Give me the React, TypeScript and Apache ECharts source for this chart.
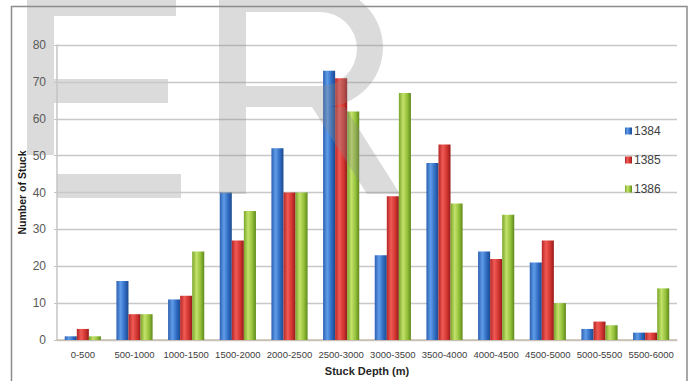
import React, { useEffect, useRef } from "react";
import * as echarts from "echarts";

// Stuck-pipe incidents by depth interval, three Iranian calendar years
const depthBins = [
  "0-500", "500-1000", "1000-1500", "1500-2000", "2000-2500", "2500-3000",
  "3000-3500", "3500-4000", "4000-4500", "4500-5000", "5000-5500", "5500-6000",
];
const years = ["1384", "1385", "1386"];
const stuck1384 = [1, 16, 11, 40, 52, 73, 23, 48, 24, 21, 3, 2];
const stuck1385 = [3, 7, 12, 27, 40, 71, 39, 53, 22, 27, 5, 2];
const stuck1386 = [1, 7, 24, 35, 40, 62, 67, 37, 34, 10, 4, 14];
const yTicks = [0, 10, 20, 30, 40, 50, 60, 70, 80];

// Outline of the large "R" of the faint overlay lettering
const R_PATH =
  "M219,-12 L323,-12 A60,59.5 0 0 1 323,107 L345,107 L400,194 L367,194 L312,107 L246,107 L246,194 L219,194 Z " +
  "M246,12 L246,86 L320,86 A37,37 0 0 0 320,12 Z";
let registered = false;
function ensureShapes() {
  if (registered) return;
  echarts.graphic.registerShape("letterR", echarts.graphic.extendPath(R_PATH, {}));
  registered = true;
}

function cylinder(stops: string[]) {
  return new echarts.graphic.LinearGradient(0, 0, 1, 0, [
    { offset: 0, color: stops[0] },
    { offset: 0.35, color: stops[1] },
    { offset: 0.7, color: stops[2] },
    { offset: 1, color: stops[3] },
  ]);
}

const palettes = [
  ["#2C60B2", "#5F9CE8", "#2F6BC2", "#1D4A8E"],
  ["#B42626", "#F05A55", "#D23530", "#951B1B"],
  ["#7AA52A", "#C3E26A", "#94C03A", "#5E881A"],
];

export default function App() {
  const ref = useRef<HTMLDivElement>(null);

  useEffect(() => {
    if (!ref.current) return;
    ensureShapes();
    const chart = echarts.init(ref.current, undefined, { renderer: "svg" });
    const seriesData = [stuck1384, stuck1385, stuck1386];
    const overlay = "rgba(140,140,140,0.31)";

    chart.setOption({
      animation: false,
      backgroundColor: "#ffffff",
      textStyle: { fontFamily: "Liberation Sans" },
      grid: { left: 57, right: 14, top: 45, bottom: 40, containLabel: false },
      legend: {
        orient: "vertical",
        left: 620,
        top: 120,
        itemWidth: 7,
        itemHeight: 7,
        itemGap: 17,
        icon: "rect",
        textStyle: { color: "#404040", fontSize: 12, padding: [0, 0, 0, -3] },
        data: years,
      },
      xAxis: {
        type: "category",
        data: depthBins,
        name: "Stuck Depth (m)",
        nameLocation: "middle",
        nameGap: 25,
        nameTextStyle: { fontWeight: "bold", fontSize: 11, color: "#262626" },
        axisLine: { lineStyle: { color: "#c9bfae", width: 1.5 } },
        axisTick: { show: false },
        axisLabel: { interval: 0, fontSize: 9.5, color: "#404040", margin: 9 },
      },
      yAxis: {
        type: "value",
        min: yTicks[0],
        max: yTicks[yTicks.length - 1],
        interval: 10,
        name: "Number of Stuck",
        nameLocation: "middle",
        nameGap: 30,
        nameMoveOverlap: false,
        nameTextStyle: { fontWeight: "bold", fontSize: 10.5, color: "#1a1a1a" },
        axisLine: { show: true, lineStyle: { color: "#c4c4c4", width: 1.5 } },
        axisTick: { show: true, length: 3, lineStyle: { color: "#c4c4c4" } },
        axisLabel: { fontSize: 12, color: "#595959", margin: 11 },
        splitLine: { lineStyle: { color: "#c8c8c8", width: 1.3 } },
      },
      series: years.map((y, i) => ({
        name: y,
        type: "bar",
        data: seriesData[i],
        barGap: "0%",
        barCategoryGap: "30%",
        itemStyle: { color: cylinder(palettes[i]) },
      })),
      graphic: [
        {
          type: "rect",
          z: 50,
          silent: true,
          shape: { x: 11.5, y: 6.5, width: 675.5, height: 390 },
          style: { fill: "none", stroke: "#8c8c8c", lineWidth: 1.5 },
        },
        // faint "E"
        {
          type: "group",
          z: 100,
          silent: true,
          children: [
            { type: "rect", shape: { x: 27, y: -5, width: 27, height: 160 }, style: { fill: overlay } },
            { type: "rect", shape: { x: 54, y: -5, width: 122, height: 21 }, style: { fill: overlay } },
            { type: "rect", shape: { x: 54, y: 79, width: 114, height: 24 }, style: { fill: overlay } },
            { type: "rect", shape: { x: 57, y: 174, width: 124, height: 24 }, style: { fill: overlay } },
          ],
        },
        // faint "R"
        {
          type: "letterR",
          z: 100,
          silent: true,
          x: 0,
          y: 0,
          style: { fill: overlay },
        },
      ],
    });

    return () => chart.dispose();
  }, []);

  return (
    <div
      ref={ref}
      style={{ position: "absolute", left: 0, top: 0, width: 691, height: 381 }}
    />
  );
}
